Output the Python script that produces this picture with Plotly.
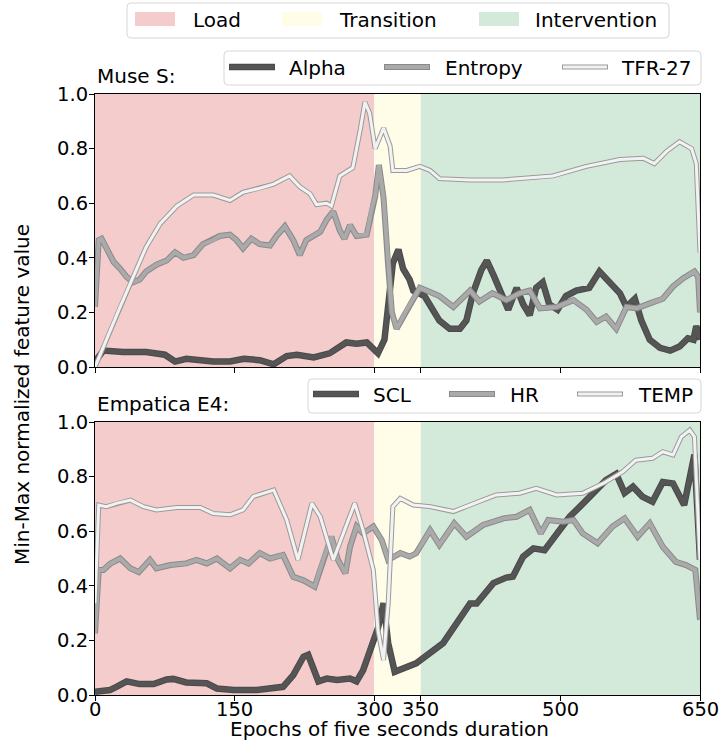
import plotly.graph_objects as go

W, H = 721, 745

# ---------------- data ----------------
alpha_x = [0, 9, 30, 55, 75, 86, 98, 127, 145, 160, 177, 192, 206, 217, 235, 252, 270, 281, 292, 304, 311, 320, 326, 331, 338, 342, 354, 360, 370, 381, 392, 399, 406, 415, 421, 429, 437, 444, 453, 460, 467, 474, 481, 488, 497, 506, 517, 531, 542, 553, 564, 571, 580, 587, 596, 607, 618, 628, 637, 643, 646, 650]
alpha_y = [0.02, 0.06, 0.055, 0.055, 0.045, 0.02, 0.03, 0.02, 0.02, 0.03, 0.025, 0.01, 0.04, 0.045, 0.035, 0.05, 0.09, 0.085, 0.09, 0.05, 0.1, 0.38, 0.43, 0.36, 0.32, 0.28, 0.26, 0.23, 0.17, 0.14, 0.14, 0.17, 0.27, 0.355, 0.39, 0.33, 0.26, 0.21, 0.29, 0.23, 0.19, 0.29, 0.31, 0.23, 0.21, 0.26, 0.28, 0.29, 0.35, 0.31, 0.27, 0.22, 0.25, 0.17, 0.1, 0.07, 0.06, 0.075, 0.105, 0.1, 0.15, 0.1]

entropy_x = [0, 4, 7, 12, 20, 27, 34, 41, 48, 55, 66, 77, 86, 95, 106, 116, 127, 134, 145, 152, 159, 168, 177, 188, 195, 204, 213, 220, 227, 234, 242, 249, 256, 263, 268, 274, 281, 292, 297, 301, 305, 310, 315, 319, 324, 335, 349, 360, 370, 385, 403, 413, 427, 442, 456, 467, 478, 496, 514, 528, 539, 549, 560, 571, 582, 596, 610, 621, 632, 644, 648, 650]
entropy_y = [0.22, 0.465, 0.47, 0.44, 0.385, 0.36, 0.33, 0.31, 0.32, 0.35, 0.375, 0.39, 0.42, 0.40, 0.41, 0.45, 0.465, 0.48, 0.485, 0.465, 0.435, 0.47, 0.45, 0.445, 0.48, 0.515, 0.465, 0.41, 0.465, 0.48, 0.495, 0.54, 0.57, 0.5, 0.47, 0.52, 0.48, 0.485, 0.575, 0.625, 0.74, 0.62, 0.37, 0.2, 0.14, 0.21, 0.29, 0.275, 0.26, 0.22, 0.28, 0.24, 0.27, 0.245, 0.27, 0.28, 0.215, 0.22, 0.245, 0.21, 0.165, 0.185, 0.14, 0.22, 0.215, 0.233, 0.25, 0.295, 0.325, 0.35, 0.33, 0.2]

tfr_x = [0, 12, 27, 41, 55, 70, 88, 106, 127, 145, 159, 177, 192, 209, 220, 231, 238, 249, 254, 263, 277, 285, 290, 295, 301, 310, 317, 320, 335, 349, 360, 370, 403, 438, 492, 528, 564, 589, 601, 614, 628, 641, 646, 650]
tfr_y = [0.0, 0.1, 0.22, 0.33, 0.44, 0.525, 0.59, 0.63, 0.63, 0.61, 0.64, 0.655, 0.67, 0.70, 0.66, 0.635, 0.595, 0.6, 0.59, 0.70, 0.73, 0.87, 0.97, 0.93, 0.80, 0.875, 0.81, 0.72, 0.72, 0.735, 0.72, 0.69, 0.685, 0.685, 0.70, 0.735, 0.76, 0.765, 0.745, 0.79, 0.825, 0.8, 0.745, 0.42]

scl_x = [0, 16, 23, 34, 48, 63, 77, 84, 98, 120, 131, 149, 174, 192, 202, 213, 224, 229, 240, 249, 260, 274, 281, 288, 295, 304, 310, 315, 322, 345, 374, 403, 410, 428, 442, 449, 460, 471, 483, 496, 510, 524, 539, 549, 560, 569, 578, 588, 599, 610, 621, 633, 644, 650]
scl_y = [0.012, 0.018, 0.03, 0.05, 0.04, 0.04, 0.057, 0.059, 0.046, 0.043, 0.024, 0.018, 0.018, 0.024, 0.03, 0.073, 0.14, 0.147, 0.05, 0.06, 0.055, 0.06, 0.05, 0.09, 0.165, 0.245, 0.336, 0.19, 0.085, 0.116, 0.19, 0.335, 0.335, 0.41, 0.43, 0.434, 0.507, 0.537, 0.53, 0.59, 0.653, 0.70, 0.757, 0.787, 0.81, 0.74, 0.763, 0.727, 0.708, 0.78, 0.775, 0.696, 0.88, 0.495]

hr_x = [0, 4, 9, 16, 27, 38, 47, 59, 66, 81, 98, 109, 120, 131, 145, 156, 165, 177, 188, 202, 213, 224, 236, 245, 254, 261, 269, 274, 281, 288, 299, 308, 315, 328, 338, 345, 360, 370, 386, 399, 417, 439, 453, 467, 479, 487, 503, 514, 524, 540, 556, 569, 583, 596, 610, 624, 635, 645, 650]
hr_y = [0.226, 0.458, 0.458, 0.48, 0.50, 0.464, 0.45, 0.495, 0.464, 0.476, 0.482, 0.495, 0.482, 0.50, 0.464, 0.495, 0.482, 0.52, 0.50, 0.513, 0.433, 0.42, 0.397, 0.495, 0.58, 0.495, 0.446, 0.543, 0.617, 0.592, 0.617, 0.568, 0.495, 0.52, 0.507, 0.519, 0.604, 0.55, 0.629, 0.58, 0.623, 0.647, 0.653, 0.678, 0.592, 0.641, 0.635, 0.641, 0.592, 0.556, 0.617, 0.647, 0.58, 0.629, 0.543, 0.488, 0.476, 0.458, 0.275]

temp_x = [0, 4, 12, 23, 38, 52, 66, 88, 113, 127, 145, 159, 170, 181, 192, 206, 218, 233, 242, 256, 270, 279, 288, 299, 304, 310, 315, 320, 328, 342, 360, 385, 403, 431, 456, 474, 496, 524, 546, 567, 581, 599, 610, 621, 630, 639, 644, 650]
temp_y = [0.336, 0.696, 0.69, 0.702, 0.714, 0.69, 0.678, 0.687, 0.687, 0.665, 0.66, 0.678, 0.727, 0.739, 0.751, 0.641, 0.495, 0.702, 0.653, 0.495, 0.617, 0.702, 0.604, 0.458, 0.238, 0.128, 0.336, 0.69, 0.72, 0.696, 0.69, 0.672, 0.696, 0.733, 0.739, 0.757, 0.733, 0.739, 0.775, 0.818, 0.86, 0.867, 0.891, 0.879, 0.946, 0.97, 0.946, 0.495]

phase_names = ["Load", "Transition", "Intervention"]
phase_bounds = [(0, 300), (300, 350), (350, 650)]
x_ticks = [0, 150, 300, 350, 500, 650]
y_ticks = [0.0, 0.2, 0.4, 0.6, 0.8, 1.0]
top_names = ["Alpha", "Entropy", "TFR-27"]
bottom_names = ["SCL", "HR", "TEMP"]
panel_titles = ["Muse S:", "Empatica E4:"]
x_title = "Epochs of five seconds duration"
y_title = "Min-Max normalized feature value"

# ---------------- styles ----------------
FONT = "DejaVu Sans"
FS = 20
TFS = 19.5
phase_colors = ["#f4cccc", "#fffde8", "#d3eadb"]
# (core colour, outline colour, core width, outline width)
styles = [("#555555", "#4a4a4a", 4.5, 6.5),
          ("#aaaaaa", "#8a8a8a", 4.0, 6.0),
          ("#f2f2f2", "#9a9a9a", 3.0, 5.0)]

def px(x):
    return x / W

def py(y):
    return 1 - y / H

fig = go.Figure()

def add_series(xs, ys, st, axis):
    core, edge, wc, we = st
    xa, ya = axis
    fig.add_trace(go.Scatter(x=xs, y=ys, mode="lines", xaxis=xa, yaxis=ya,
                             line=dict(color=edge, width=we), hoverinfo="skip",
                             showlegend=False))
    fig.add_trace(go.Scatter(x=xs, y=ys, mode="lines", xaxis=xa, yaxis=ya,
                             line=dict(color=core, width=wc), hoverinfo="skip",
                             showlegend=False))

add_series(alpha_x, alpha_y, styles[0], ("x", "y"))
add_series(entropy_x, entropy_y, styles[1], ("x", "y"))
add_series(tfr_x, tfr_y, styles[2], ("x", "y"))
add_series(scl_x, scl_y, styles[0], ("x2", "y2"))
add_series(hr_x, hr_y, styles[1], ("x2", "y2"))
add_series(temp_x, temp_y, styles[2], ("x2", "y2"))

shapes = []
for xr, yr in (("x", "y domain"), ("x2", "y2 domain")):
    for (a, b), c in zip(phase_bounds, phase_colors):
        shapes.append(dict(type="rect", xref=xr, yref=yr, x0=a, x1=b, y0=0, y1=1,
                           fillcolor=c, line=dict(width=0), layer="below"))

def rounded_box(x0, y0, x1, y1, r=4):
    X0, X1 = px(x0), px(x1)
    Y0, Y1 = py(y0), py(y1)
    rx, ry = r / W, r / H
    path = (f"M {X0+rx},{Y0} L {X1-rx},{Y0} Q {X1},{Y0} {X1},{Y0-ry} "
            f"L {X1},{Y1+ry} Q {X1},{Y1} {X1-rx},{Y1} L {X0+rx},{Y1} "
            f"Q {X0},{Y1} {X0},{Y1+ry} L {X0},{Y0-ry} Q {X0},{Y0} {X0+rx},{Y0} Z")
    return dict(type="path", xref="paper", yref="paper", path=path,
                fillcolor="white", line=dict(color="#d6d6d6", width=1), layer="above")

annotations = []

def text(x, y, s, anchor="left", size=FS, angle=0):
    annotations.append(dict(x=px(x), y=py(y), xref="paper", yref="paper", text=s,
                            showarrow=False, xanchor=anchor, yanchor="middle",
                            textangle=angle, font=dict(family=FONT, size=size, color="black")))

# phase legend
shapes.append(rounded_box(127, 3, 669, 38))
patch_x = [135, 282, 479]
text_x = [191, 337, 533]
for p0, tx, c, name in zip(patch_x, text_x, phase_colors, phase_names):
    shapes.append(dict(type="rect", xref="paper", yref="paper", x0=px(p0), x1=px(p0 + 40),
                       y0=py(26), y1=py(12), fillcolor=c, line=dict(width=0), layer="above"))
    text(tx, 20, name)

def line_legend(box, line_x, text_x, ly, names):
    shapes.append(rounded_box(*box))
    for lx, tx, st, name in zip(line_x, text_x, styles, names):
        core, edge, wc, we = st
        for col, wd, pad in ((edge, we, 0), (core, wc, 1)):
            shapes.append(dict(type="line", xref="paper", yref="paper",
                               x0=px(lx + pad), x1=px(lx + 46 - pad), y0=py(ly), y1=py(ly),
                               line=dict(color=col, width=wd), layer="above"))
        text(tx, ly + 1, name)

line_legend((224, 51, 701, 85), [229, 384, 562], [287, 443, 619], 67, top_names)
line_legend((308, 379, 701, 413), [313, 449, 577], [371, 508, 636], 394, bottom_names)

text(95, 76, panel_titles[0])
text(95, 404, panel_titles[1])
text(22, 395, y_title, anchor="center", angle=-90)
text(389, 729, x_title, anchor="center")

# bottom x tick labels placed on the data axis (x2)
for t in x_ticks:
    annotations.append(dict(x=t, y=py(709.5), xref="x2", yref="paper", text=str(t),
                            showarrow=False, xanchor="center", yanchor="middle",
                            borderpad=0,
                            font=dict(family=FONT, size=TFS, color="black")))

axis_common = dict(range=[0, 650], tickvals=x_ticks, ticks="outside", ticklen=5,
                   tickcolor="black", showline=True, linecolor="black", linewidth=1,
                   mirror=True, showgrid=False, zeroline=False, automargin=False,
                   showticklabels=False)
yaxis_common = dict(range=[0, 1], tickvals=y_ticks, ticktext=[f"{v:.1f}" for v in y_ticks],
                    ticks="outside", ticklen=5, tickcolor="black", showline=True,
                    linecolor="black", linewidth=1, mirror=True, showgrid=False,
                    zeroline=False, automargin=False, ticklabelstandoff=-3,
                    tickfont=dict(family=FONT, size=TFS, color="black"))

fig.update_layout(
    width=W, height=H,
    margin=dict(l=0, r=0, t=0, b=0, pad=0, autoexpand=False),
    paper_bgcolor="white", plot_bgcolor="white",
    showlegend=False,
    xaxis=dict(axis_common, domain=[px(95), px(700)], anchor="y"),
    yaxis=dict(yaxis_common, domain=[py(367), py(94)], anchor="x"),
    xaxis2=dict(axis_common, domain=[px(95), px(700)], anchor="y2"),
    yaxis2=dict(yaxis_common, domain=[py(695), py(422)], anchor="x2"),
    shapes=shapes,
    annotations=annotations,
)

fig.write_html("out.html", config={"displayModeBar": False},
               post_script="document.body.style.margin='0px';document.body.style.overflow='hidden';")
